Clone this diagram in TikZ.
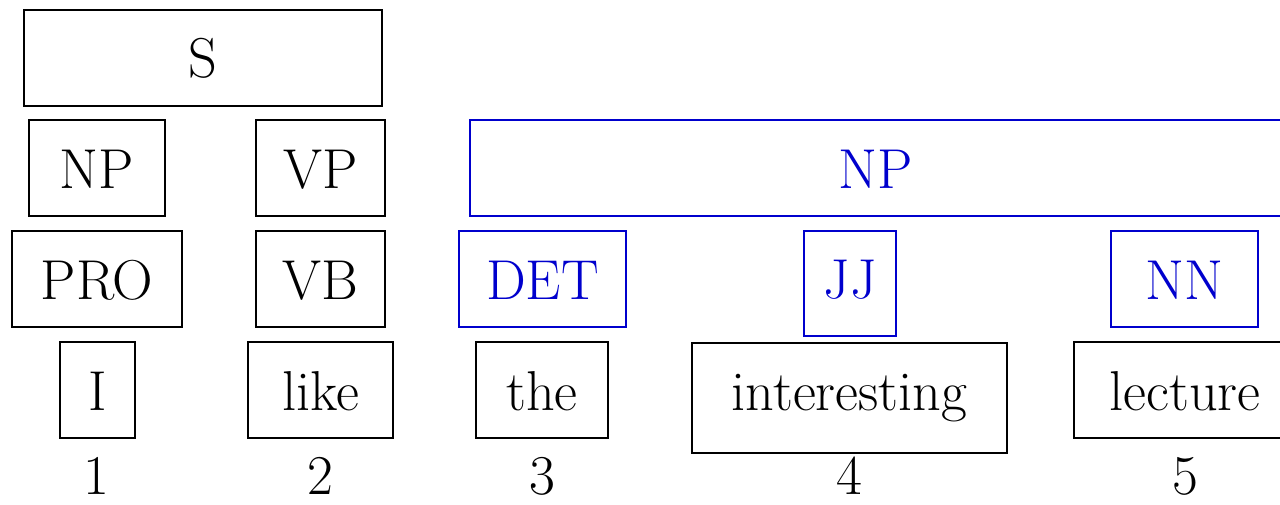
\documentclass[tikz,border=0pt]{standalone}
\usepackage{fontspec}
\definecolor{npblue}{RGB}{0,0,205}
\begin{document}
\begin{tikzpicture}[x=0.02cm,y=-0.02cm,
  box/.style={draw=black,line width=0.04cm,rectangle,inner sep=0pt,
    font=\fontsize{32}{38}\selectfont,text height=0.8cm,text depth=0cm,
    minimum height=1.92cm},
  bluebox/.style={box,draw=npblue,text=npblue},
  idx/.style={inner sep=0pt,anchor=base,font=\fontsize{32}{38}\selectfont}]
\useasboundingbox (0,0) rectangle (1280,504);
\clip (0,0) rectangle (1280,504);
% row 1
\node[box,minimum width=7.16cm] (S) at (203,58) {S};
% row 2
\node[box,minimum width=2.72cm] (NP1) at (97,168) {NP};
\node[box,minimum width=2.58cm] (VP) at (320.5,168) {VP};
\node[bluebox,minimum width=16.24cm] (NP2) at (876,168) {NP};
% row 3
\node[box,minimum width=3.4cm] (PRO) at (97,279) {PRO};
\node[box,minimum width=2.58cm] (VB) at (320.5,279) {VB};
\node[bluebox,minimum width=3.34cm] (DET) at (542.5,279) {DET};
\node[bluebox,minimum width=1.84cm,minimum height=2.1cm,text depth=0.22cm] (JJ) at (850,283.5) {JJ};
\node[bluebox,minimum width=2.94cm] (NN) at (1184.5,279) {NN};
% row 4
\node[box,minimum width=1.5cm] (w1) at (97.5,390) {I};
\node[box,minimum width=2.9cm] (w2) at (320.5,390) {like};
\node[box,minimum width=2.64cm] (w3) at (542,390) {the};
\node[box,minimum width=6.3cm,minimum height=2.2cm,text depth=0.32cm] (w4) at (849.5,398) {interesting};
\node[box,minimum width=4.44cm] (w5) at (1185,390) {lecture};
% indices
\node[idx] (n1) at (96,494) {1};
\node[idx] (n2) at (320,494) {2};
\node[idx] (n3) at (542,494) {3};
\node[idx] (n4) at (849,494) {4};
\node[idx] (n5) at (1185,494) {5};
\end{tikzpicture}
\end{document}
